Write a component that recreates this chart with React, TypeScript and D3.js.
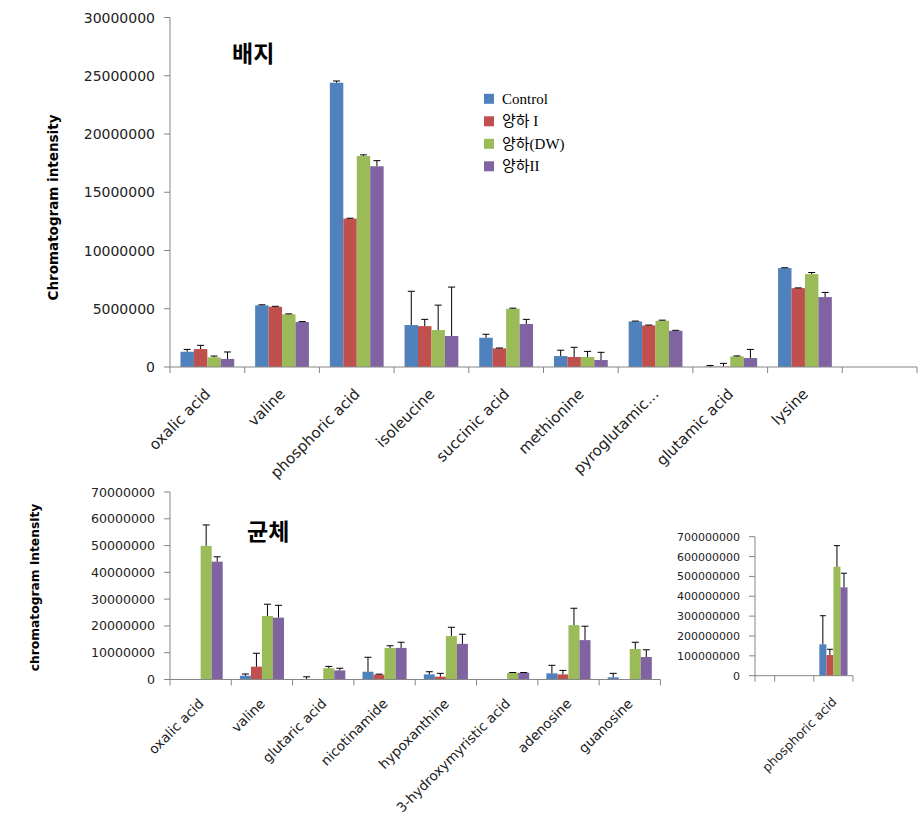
import React from "react";
import * as d3 from "d3";

const seriesNames = ["Control", "양하 I", "양하(DW)", "양하II"];
const seriesColors = ["#4F81BD", "#C0504D", "#9BBB59", "#8064A2"];

// ---- 배지 (medium) ----
const topCategories = [
  "oxalic acid", "valine", "phosphoric acid", "isoleucine", "succinic acid",
  "methionine", "pyroglutamic...", "glutamic acid", "lysine", "",
];
const topControl = [1310000, 5290000, 24400000, 3600000, 2510000, 940000, 3910000, 30000, 8490000, null];
const topControlErr = [200000, 50000, 150000, 2900000, 300000, 500000, 30000, 100000, 30000, null];
const topYangha1 = [1540000, 5170000, 12740000, 3510000, 1600000, 860000, 3570000, 30000, 6770000, null];
const topYangha1Err = [320000, 40000, 30000, 580000, 30000, 830000, 30000, 280000, 20000, null];
const topYanghaDW = [830000, 4520000, 18110000, 3170000, 5000000, 860000, 3970000, 910000, 7970000, null];
const topYanghaDWErr = [110000, 40000, 100000, 2140000, 50000, 480000, 50000, 40000, 140000, null];
const topYangha2 = [690000, 3860000, 17230000, 2660000, 3690000, 600000, 3110000, 770000, 6000000, null];
const topYangha2Err = [600000, 40000, 480000, 4200000, 400000, 660000, 40000, 740000, 400000, null];
const topTicks = [0, 5000000, 10000000, 15000000, 20000000, 25000000, 30000000];

// ---- 균체 (cells) ----
const bottomCategories = [
  "oxalic acid", "valine", "glutaric acid", "nicotinamide", "hypoxanthine",
  "3-hydroxymyristic acid", "adenosine", "guanosine",
];
const bottomControl = [0, 1400000, 100000, 2900000, 1900000, 0, 2300000, 800000];
const bottomControlErr = [0, 650000, 900000, 5400000, 1000000, 0, 3000000, 1500000];
const bottomYangha1 = [0, 4800000, 0, 1800000, 1050000, 0, 1900000, 0];
const bottomYangha1Err = [0, 5000000, 0, 200000, 1250000, 0, 1500000, 0];
const bottomYanghaDW = [49900000, 23700000, 4200000, 11800000, 16200000, 2500000, 20300000, 11400000];
const bottomYanghaDWErr = [7800000, 4400000, 700000, 800000, 3300000, 100000, 6300000, 2500000];
const bottomYangha2 = [44000000, 23100000, 3400000, 11800000, 13300000, 2500000, 14700000, 8400000];
const bottomYangha2Err = [1800000, 4600000, 800000, 2100000, 3600000, 100000, 5200000, 2700000];
const bottomTicks = [0, 10000000, 20000000, 30000000, 40000000, 50000000, 60000000, 70000000];

// ---- inset ----
const insetCategories = ["", "phosphoric acid"];
const insetControl = [null, 158000000];
const insetControlErr = [null, 144000000];
const insetYangha1 = [null, 104000000];
const insetYangha1Err = [null, 29000000];
const insetYanghaDW = [null, 549000000];
const insetYanghaDWErr = [null, 106000000];
const insetYangha2 = [null, 445000000];
const insetYangha2Err = [null, 71000000];
const insetTicks = [0, 100000000, 200000000, 300000000, 400000000, 500000000, 600000000, 700000000];

const AXIS = "#868686";
const SANS = "'DejaVu Sans', sans-serif";

type PanelProps = {
  categories: string[];
  values: (number | null)[][];
  errors: (number | null)[][];
  ticks: number[];
  xRange: [number, number];
  axisX: number;
  yRange: [number, number];
  tickFont: number;
  labelFont: number;
  labelDy: number;
  capW: number;
};

function BarPanel(p: PanelProps) {
  const x = d3
    .scaleBand<string>()
    .domain(p.categories.map((_, i) => String(i)))
    .range(p.xRange)
    .paddingInner(0)
    .paddingOuter(0);
  const bw = x.bandwidth();
  const inner = d3
    .scaleBand<string>()
    .domain(seriesNames)
    .range([bw * 0.14, bw * 0.86])
    .paddingInner(0);
  const yMax = p.ticks[p.ticks.length - 1];
  const y = d3.scaleLinear().domain([0, yMax]).range(p.yRange);
  const base = y(0);
  const fmt = d3.format("d");
  const boundaries = [p.axisX, ...p.categories.map((_, i) => x(String(i)) as number), p.xRange[1]].filter(
    (v, i, a) => v >= p.axisX - 0.5 && a.indexOf(v) === i
  );

  return (
    <g>
      {p.categories.map((_, ci) =>
        seriesNames.map((s, si) => {
          const v = p.values[si][ci];
          if (v === null || v === undefined) return null;
          const bx = (x(String(ci)) as number) + (inner(s) as number);
          const w = inner.bandwidth();
          const top = y(v);
          const e = p.errors[si][ci];
          return (
            <g key={`${ci}-${si}`}>
              <rect x={bx} y={top} width={w} height={Math.max(0, base - top)} fill={seriesColors[si]} />
              {e !== null && e !== undefined && e > 0 ? (
                <g stroke="#000" strokeWidth={1}>
                  <line x1={bx + w / 2} x2={bx + w / 2} y1={top} y2={y(v + e)} />
                  <line x1={bx + w / 2 - p.capW / 2} x2={bx + w / 2 + p.capW / 2} y1={y(v + e)} y2={y(v + e)} />
                </g>
              ) : null}
            </g>
          );
        })
      )}
      <line x1={p.axisX} x2={p.axisX} y1={base} y2={p.yRange[1]} stroke={AXIS} />
      {p.ticks.map((t) => (
        <g key={t}>
          <line x1={p.axisX - 6} x2={p.axisX} y1={y(t)} y2={y(t)} stroke={AXIS} />
          <text
            x={p.axisX - 15}
            y={y(t)}
            dy="0.36em"
            textAnchor="end"
            fontFamily={SANS}
            fontSize={p.tickFont}
            fill="#222"
          >
            {fmt(t)}
          </text>
        </g>
      ))}
      <line x1={p.axisX} x2={p.xRange[1]} y1={base} y2={base} stroke={AXIS} />
      {boundaries.map((b, i) => (
        <line key={i} x1={b} x2={b} y1={base} y2={base + 6} stroke={AXIS} />
      ))}
      {p.categories.map((c, ci) => {
        const cx = (x(String(ci)) as number) + bw / 2 + 4;
        const cy = base + p.labelDy;
        return (
          <text
            key={ci}
            transform={`translate(${cx},${cy}) rotate(-45)`}
            textAnchor="end"
            fontFamily={SANS}
            fontSize={p.labelFont}
            fill="#222"
          >
            {c}
          </text>
        );
      })}
    </g>
  );
}

export default function App() {
  return (
    <svg
      width={918}
      height={818}
      style={{ position: "absolute", left: 0, top: 0, background: "#fff" }}
    >
      <rect x={0} y={0} width={918} height={818} fill="#fff" />
      <BarPanel
        categories={topCategories}
        values={[topControl, topYangha1, topYanghaDW, topYangha2]}
        errors={[topControlErr, topYangha1Err, topYanghaDWErr, topYangha2Err]}
        ticks={topTicks}
        xRange={[170, 917]}
        axisX={170}
        yRange={[367, 17.5]}
        tickFont={14}
        labelFont={15}
        labelDy={28}
        capW={7}
      />
      <text x={232} y={62} fontFamily="'Noto Sans CJK KR', sans-serif" fontWeight={700} fontSize={23} fill="#000">
        배지
      </text>
      <text
        transform="translate(53,207.5) rotate(-90)"
        textAnchor="middle"
        dy="0.35em"
        fontFamily={SANS}
        fontWeight={700}
        fontSize={13.5}
        fill="#000"
      >
        Chromatogram intensity
      </text>
      {seriesNames.map((s, i) => (
        <g key={s} transform={`translate(484,${98.8 + i * 22.5})`}>
          <rect x={0} y={-5} width={10} height={10} fill={seriesColors[i]} />
          <text
            x={18}
            y={5}
            fontFamily="'Liberation Serif', 'Noto Sans CJK KR', serif"
            fontSize={15}
            fill="#000"
          >
            {s}
          </text>
        </g>
      ))}

      <BarPanel
        categories={bottomCategories}
        values={[bottomControl, bottomYangha1, bottomYanghaDW, bottomYangha2]}
        errors={[bottomControlErr, bottomYangha1Err, bottomYanghaDWErr, bottomYangha2Err]}
        ticks={bottomTicks}
        xRange={[170, 660.4]}
        axisX={170}
        yRange={[679.5, 492]}
        tickFont={12.6}
        labelFont={13.5}
        labelDy={25}
        capW={7}
      />
      <text x={247} y={540} fontFamily="'Noto Sans CJK KR', sans-serif" fontWeight={700} fontSize={23} fill="#000">
        균체
      </text>
      <text
        transform="translate(35,587.5) rotate(-90)"
        textAnchor="middle"
        dy="0.35em"
        fontFamily={SANS}
        fontWeight={700}
        fontSize={12.3}
        fill="#000"
      >
        chromatogram intensity
      </text>

      <BarPanel
        categories={insetCategories}
        values={[insetControl, insetYangha1, insetYanghaDW, insetYangha2]}
        errors={[insetControlErr, insetYangha1Err, insetYanghaDWErr, insetYangha2Err]}
        ticks={insetTicks}
        xRange={[774.7, 853]}
        axisX={755}
        yRange={[675.7, 536.7]}
        tickFont={11}
        labelFont={12.5}
        labelDy={27}
        capW={6}
      />
    </svg>
  );
}
